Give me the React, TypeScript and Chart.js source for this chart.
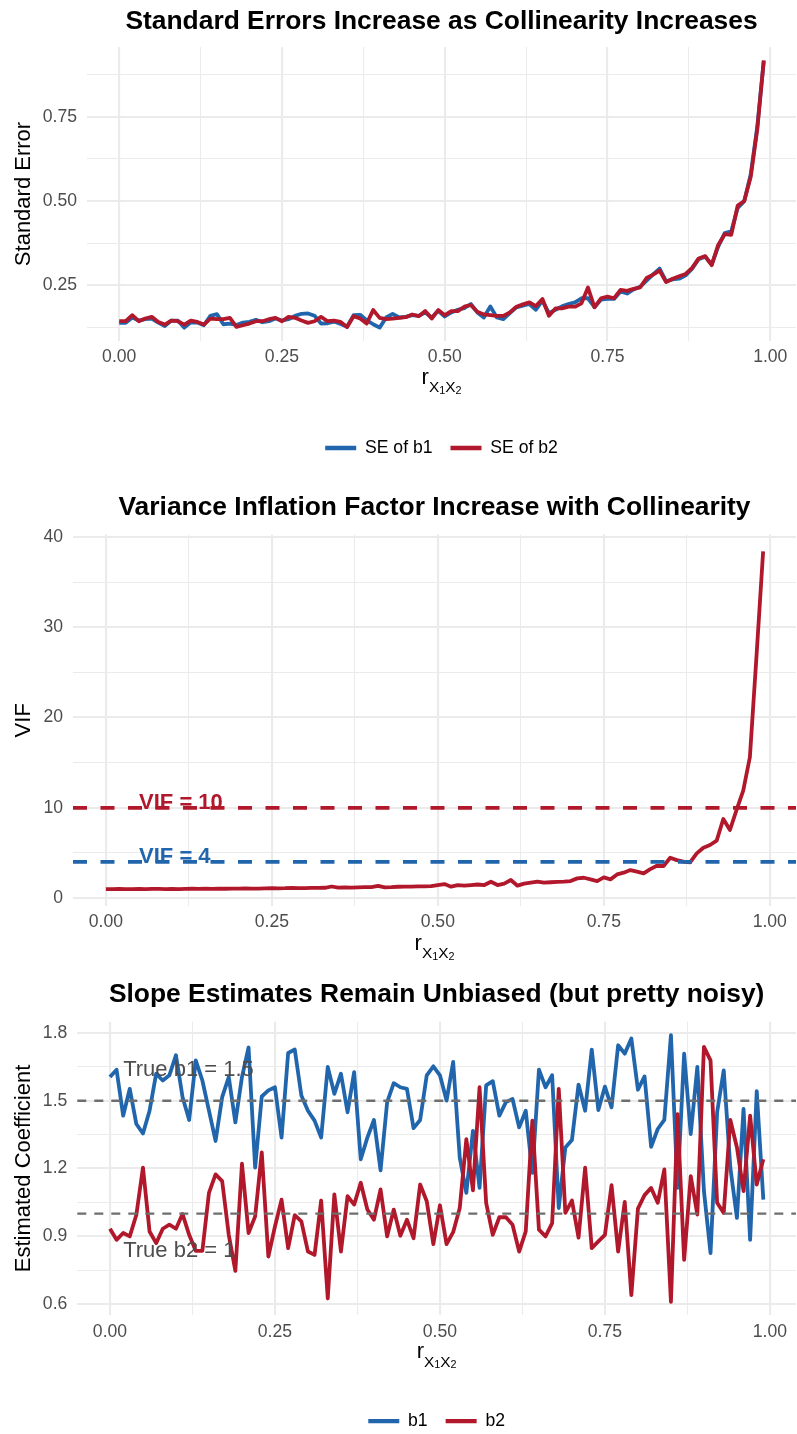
import React, { useEffect, useRef } from 'react';
import { Chart, registerables } from 'chart.js';

Chart.register(...registerables);

const FONT = "'Liberation Sans', Arial, Helvetica, sans-serif";
Chart.defaults.font.family = FONT;

// ---------- data ----------
const R_VALUES = [
  0.00, 0.01, 0.02, 0.03, 0.04, 0.05, 0.06, 0.07, 0.08, 0.09,
  0.10, 0.11, 0.12, 0.13, 0.14, 0.15, 0.16, 0.17, 0.18, 0.19,
  0.20, 0.21, 0.22, 0.23, 0.24, 0.25, 0.26, 0.27, 0.28, 0.29,
  0.30, 0.31, 0.32, 0.33, 0.34, 0.35, 0.36, 0.37, 0.38, 0.39,
  0.40, 0.41, 0.42, 0.43, 0.44, 0.45, 0.46, 0.47, 0.48, 0.49,
  0.50, 0.51, 0.52, 0.53, 0.54, 0.55, 0.56, 0.57, 0.58, 0.59,
  0.60, 0.61, 0.62, 0.63, 0.64, 0.65, 0.66, 0.67, 0.68, 0.69,
  0.70, 0.71, 0.72, 0.73, 0.74, 0.75, 0.76, 0.77, 0.78, 0.79,
  0.80, 0.81, 0.82, 0.83, 0.84, 0.85, 0.86, 0.87, 0.88, 0.89,
  0.90, 0.91, 0.92, 0.93, 0.94, 0.95, 0.96, 0.97, 0.98, 0.99,
];

const SE_B1 = [
  0.139, 0.139, 0.155, 0.146, 0.150, 0.152, 0.140, 0.130, 0.146, 0.146,
  0.125, 0.141, 0.140, 0.132, 0.160, 0.165, 0.135, 0.137, 0.133, 0.140,
  0.142, 0.148, 0.141, 0.144, 0.152, 0.146, 0.150, 0.160, 0.166, 0.167,
  0.160, 0.137, 0.138, 0.143, 0.136, 0.128, 0.162, 0.163, 0.147, 0.135,
  0.125, 0.155, 0.166, 0.155, 0.157, 0.162, 0.160, 0.170, 0.155, 0.175,
  0.158, 0.170, 0.178, 0.183, 0.195, 0.170, 0.155, 0.188, 0.155, 0.150,
  0.168, 0.185, 0.190, 0.195, 0.178, 0.205, 0.168, 0.178, 0.188, 0.195,
  0.200, 0.212, 0.212, 0.186, 0.208, 0.210, 0.210, 0.232, 0.226, 0.238,
  0.246, 0.264, 0.283, 0.300, 0.262, 0.268, 0.270, 0.280, 0.300, 0.328,
  0.335, 0.312, 0.365, 0.405, 0.410, 0.480, 0.500, 0.580, 0.720, 0.915,
];

const SE_B2 = [
  0.144, 0.144, 0.162, 0.144, 0.152, 0.157, 0.142, 0.134, 0.146, 0.144,
  0.134, 0.146, 0.142, 0.134, 0.152, 0.150, 0.150, 0.154, 0.127, 0.132,
  0.137, 0.144, 0.144, 0.150, 0.154, 0.144, 0.157, 0.154, 0.146, 0.139,
  0.144, 0.157, 0.144, 0.146, 0.142, 0.127, 0.159, 0.152, 0.137, 0.177,
  0.154, 0.150, 0.152, 0.154, 0.156, 0.164, 0.159, 0.174, 0.152, 0.177,
  0.162, 0.174, 0.174, 0.187, 0.192, 0.172, 0.164, 0.162, 0.160, 0.160,
  0.170, 0.187, 0.194, 0.200, 0.189, 0.210, 0.160, 0.182, 0.182, 0.187,
  0.187, 0.197, 0.244, 0.185, 0.212, 0.217, 0.212, 0.237, 0.234, 0.240,
  0.244, 0.272, 0.282, 0.294, 0.260, 0.270, 0.277, 0.284, 0.302, 0.330,
  0.337, 0.310, 0.370, 0.402, 0.400, 0.487, 0.500, 0.572, 0.712, 0.917,
];

const VIF_VALUES = [
  1.00, 1.00, 1.01, 0.99, 1.00, 1.01, 1.00, 1.02, 1.01, 1.00,
  1.02, 1.00, 1.01, 1.03, 1.02, 1.03, 1.02, 1.04, 1.03, 1.05,
  1.04, 1.06, 1.05, 1.05, 1.07, 1.10, 1.08, 1.09, 1.12, 1.10,
  1.11, 1.13, 1.12, 1.14, 1.28, 1.15, 1.17, 1.16, 1.19, 1.20,
  1.22, 1.35, 1.18, 1.20, 1.25, 1.27, 1.26, 1.30, 1.29, 1.32,
  1.44, 1.55, 1.26, 1.44, 1.37, 1.44, 1.50, 1.44, 1.81, 1.44,
  1.60, 2.00, 1.37, 1.60, 1.70, 1.81, 1.70, 1.75, 1.79, 1.81,
  1.88, 2.18, 2.25, 2.07, 1.88, 2.29, 2.07, 2.62, 2.81, 3.10,
  2.92, 2.73, 3.20, 3.58, 3.55, 4.47, 4.20, 4.03, 3.95, 4.95,
  5.58, 5.88, 6.36, 8.76, 7.54, 9.76, 11.90, 15.60, 26.80, 38.40,
];

const B1_ESTIMATES = [
  1.605, 1.638, 1.434, 1.553, 1.397, 1.355, 1.456, 1.620, 1.590, 1.613,
  1.702, 1.516, 1.415, 1.679, 1.590, 1.456, 1.322, 1.516, 1.605, 1.404,
  1.605, 1.736, 1.204, 1.519, 1.546, 1.560, 1.337, 1.712, 1.727, 1.523,
  1.456, 1.412, 1.337, 1.650, 1.531, 1.620, 1.449, 1.627, 1.241, 1.337,
  1.415, 1.192, 1.494, 1.578, 1.560, 1.553, 1.379, 1.415, 1.613, 1.653,
  1.613, 1.501, 1.672, 1.248, 1.092, 1.367, 1.114, 1.568, 1.587, 1.434,
  1.494, 1.508, 1.382, 1.456, 1.181, 1.638, 1.560, 1.613, 1.025, 1.293,
  1.326, 1.572, 1.456, 1.727, 1.459, 1.563, 1.471, 1.746, 1.709, 1.776,
  1.549, 1.608, 1.296, 1.375, 1.415, 1.791, 1.114, 1.709, 1.352, 1.650,
  1.100, 0.825, 1.449, 1.635, 1.204, 0.981, 1.464, 0.884, 1.543, 1.062,
];

const B2_ESTIMATES = [
  0.933, 0.884, 0.914, 0.899, 0.995, 1.204, 0.921, 0.869, 0.933, 0.951,
  0.933, 0.998, 0.906, 0.835, 0.835, 1.092, 1.174, 1.144, 0.906, 0.746,
  1.221, 0.914, 0.988, 1.271, 0.810, 0.943, 1.062, 0.847, 0.993, 0.966,
  0.832, 0.817, 1.058, 0.624, 1.085, 0.832, 1.077, 1.040, 1.137, 1.018,
  0.973, 1.107, 0.899, 1.018, 0.902, 0.973, 0.891, 1.129, 1.055, 0.865,
  1.037, 0.865, 0.918, 1.025, 1.330, 1.103, 1.560, 1.048, 0.906, 0.984,
  0.984, 0.951, 0.832, 0.921, 1.412, 0.929, 0.899, 0.958, 1.553, 1.003,
  1.058, 0.894, 1.204, 0.847, 0.877, 0.906, 1.126, 0.832, 1.052, 0.639,
  1.022, 1.082, 1.114, 1.048, 1.196, 0.609, 1.441, 0.795, 1.166, 0.996,
  1.739, 1.679, 1.048, 1.003, 1.415, 1.293, 1.100, 1.434, 1.129, 1.241,
];

// tick values
const X_MAJOR_TICKS = [0, 0.25, 0.5, 0.75, 1];
const X_MINOR_TICKS = [0.125, 0.375, 0.625, 0.875];
const SE_MAJOR_TICKS = [0.25, 0.5, 0.75];
const SE_MINOR_TICKS = [0.125, 0.375, 0.625, 0.875];
const VIF_MAJOR_TICKS = [0, 10, 20, 30, 40];
const VIF_MINOR_TICKS = [5, 15, 25, 35];
const COEF_MAJOR_TICKS = [0.6, 0.9, 1.2, 1.5, 1.8];
const COEF_MINOR_TICKS = [0.75, 1.05, 1.35, 1.65];

// reference lines
const VIF_THRESHOLDS = [10, 4];
const VIF_THRESHOLD_LABELS = ['VIF = 10', 'VIF = 4'];
const TRUE_COEFS = [1.5, 1];
const TRUE_COEF_LABELS = ['True b1 = 1.5', 'True b2 = 1'];

// ---------- styling ----------
const BLUE = '#2166AC';
const RED = '#B2182B';
const GRID = '#EBEBEB';
const TICK_COLOR = '#4D4D4D';
const W = 797;
const LEGEND_PAD = 18;

const isIn = (v: number, list: number[]) => list.some((m) => Math.abs(m - v) < 1e-9);

function expandedRange(arrays: number[][], extra: number[] = []) {
  const all = ([] as number[]).concat(...arrays, extra);
  const lo = Math.min(...all);
  const hi = Math.max(...all);
  const pad = (hi - lo) * 0.05;
  return { min: lo - pad, max: hi + pad };
}

function axis(opts: {
  min: number; max: number; majors: number[]; minors: number[];
  fmt: (v: number) => string; horizontal: boolean; size: number; title?: string;
}) {
  const all = [...opts.majors, ...opts.minors].sort((a, b) => a - b);
  return {
    type: 'linear',
    min: opts.min,
    max: opts.max,
    afterBuildTicks: (s: any) => {
      s.ticks = all.filter((v) => v >= opts.min && v <= opts.max).map((v) => ({ value: v }));
    },
    afterFit: (s: any) => {
      if (opts.horizontal) s.height = opts.size;
      else s.width = opts.size;
    },
    grid: {
      color: GRID,
      lineWidth: (c: any) => (c.tick && isIn(c.tick.value, opts.majors) ? 2.1 : 1.05),
      drawTicks: false,
    },
    border: { display: false },
    ticks: {
      autoSkip: false,
      maxRotation: 0,
      minRotation: 0,
      padding: opts.horizontal ? 6 : 10,
      color: TICK_COLOR,
      font: { size: 17.6, family: FONT },
      callback: (v: any) => (isIn(Number(v), opts.majors) ? opts.fmt(Number(v)) : ''),
    },
    title: opts.title
      ? { display: true, text: opts.title, color: '#000', font: { size: 22, family: FONT }, padding: { top: 10.3, bottom: 0 } }
      : { display: false },
  };
}

function rxTitlePlugin(offset: number) {
  return {
    id: 'rxTitle',
    afterDraw(chart: any) {
      const { ctx, chartArea } = chart;
      const parts = [
        { t: 'r', size: 22, dy: 0 },
        { t: 'X', size: 15.4, dy: 8.4 },
        { t: '1', size: 10.8, dy: 10.2 },
        { t: 'X', size: 15.4, dy: 8.4 },
        { t: '2', size: 10.8, dy: 10.2 },
      ];
      ctx.save();
      ctx.fillStyle = '#000';
      ctx.textBaseline = 'alphabetic';
      ctx.textAlign = 'left';
      const widths = parts.map((p) => {
        ctx.font = `${p.size}px ${FONT}`;
        return ctx.measureText(p.t).width;
      });
      const total = widths.reduce((a, b) => a + b, 0);
      let x = (chartArea.left + chartArea.right) / 2 - total / 2;
      const base = chartArea.bottom + offset;
      parts.forEach((p, i) => {
        ctx.font = `${p.size}px ${FONT}`;
        ctx.fillText(p.t, x, base + p.dy);
        x += widths[i];
      });
      ctx.restore();
    },
  };
}

const legendOpts = {
  display: true,
  position: 'bottom',
  fullSize: false,
  labels: {
    boxWidth: 31,
    boxHeight: 4.3,
    padding: LEGEND_PAD,
    color: '#000',
    font: { size: 17.6, family: FONT },
    generateLabels: (chart: any) =>
      chart.data.datasets.map((ds: any, i: number) => ({
        text: ds.label,
        fillStyle: ds.borderColor,
        strokeStyle: ds.borderColor,
        lineWidth: 0,
        hidden: false,
        datasetIndex: i,
        fontColor: '#000',
      })),
  },
};

function titleOpts(text: string, top: number, bottom: number) {
  return {
    display: true,
    text,
    fullSize: false,
    align: 'center',
    color: '#000',
    font: { size: 26.4, weight: 'bold', family: FONT },
    padding: { top, bottom },
  };
}

function lineDataset(label: string, values: number[], color: string, order: number) {
  return {
    label,
    data: R_VALUES.map((r, i) => ({ x: r, y: values[i] })),
    borderColor: color,
    backgroundColor: color,
    borderWidth: 3.8,
    pointRadius: 0,
    pointHoverRadius: 0,
    tension: 0,
    borderJoinStyle: 'round',
    order,
  };
}

const X_RANGE = expandedRange([R_VALUES]);
const fmt2 = (v: number) => v.toFixed(2);
const LEGEND_H = 17.6 + LEGEND_PAD + 10;

// ---------- chart configs ----------
function seConfig(): any {
  const yr = expandedRange([SE_B1, SE_B2]);
  return {
    type: 'line',
    data: {
      datasets: [lineDataset('SE of b1', SE_B1, BLUE, 1), lineDataset('SE of b2', SE_B2, RED, 0)],
    },
    options: {
      responsive: false,
      animation: false,
      events: [],
      layout: { padding: { top: 0, left: 0, right: 1, bottom: 8.2 } },
      scales: {
        x: axis({ ...X_RANGE, majors: X_MAJOR_TICKS, minors: X_MINOR_TICKS, fmt: fmt2, horizontal: true, size: 475 - 8.2 - LEGEND_H - 341 }),
        y: axis({ ...yr, majors: SE_MAJOR_TICKS, minors: SE_MINOR_TICKS, fmt: fmt2, horizontal: false, size: 87, title: 'Standard Error' }),
      },
      plugins: {
        title: titleOpts('Standard Errors Increase as Collinearity Increases', 5.5, 9.8),
        legend: legendOpts,
        tooltip: { enabled: false },
      },
    },
    plugins: [rxTitlePlugin(43)],
  };
}

function vifConfig(): any {
  const yr = expandedRange([VIF_VALUES], VIF_THRESHOLDS);
  const colors = [RED, BLUE];
  return {
    type: 'line',
    data: { datasets: [lineDataset('VIF', VIF_VALUES, RED, 0)] },
    options: {
      responsive: false,
      animation: false,
      events: [],
      layout: { padding: { top: 0, left: 0, right: 1, bottom: 4 } },
      scales: {
        x: axis({ ...X_RANGE, majors: X_MAJOR_TICKS, minors: X_MINOR_TICKS, fmt: fmt2, horizontal: true, size: 50 }),
        y: axis({ ...yr, majors: VIF_MAJOR_TICKS, minors: VIF_MINOR_TICKS, fmt: (v) => String(Math.round(v)), horizontal: false, size: 73, title: 'VIF' }),
      },
      plugins: {
        title: titleOpts('Variance Inflation Factor Increase with Collinearity', 17.2, 10.7),
        legend: { display: false },
        tooltip: { enabled: false },
      },
    },
    plugins: [
      rxTitlePlugin(44),
      {
        id: 'vifRefs',
        afterDatasetsDraw(chart: any) {
          const { ctx, chartArea, scales } = chart;
          ctx.save();
          VIF_THRESHOLDS.forEach((v, i) => {
            const y = scales.y.getPixelForValue(v);
            ctx.strokeStyle = colors[i];
            ctx.lineWidth = 3.8;
            ctx.setLineDash([14, 13.5]);
            ctx.beginPath();
            ctx.moveTo(chartArea.left, y);
            ctx.lineTo(chartArea.right, y);
            ctx.stroke();
          });
          ctx.setLineDash([]);
          ctx.font = `bold 22px ${FONT}`;
          ctx.textAlign = 'left';
          ctx.textBaseline = 'alphabetic';
          VIF_THRESHOLDS.forEach((v, i) => {
            ctx.fillStyle = colors[i];
            ctx.fillText(VIF_THRESHOLD_LABELS[i], scales.x.getPixelForValue(0.05), scales.y.getPixelForValue(v) + 1);
          });
          ctx.restore();
        },
      },
    ],
  };
}

function coefConfig(): any {
  const yr = expandedRange([B1_ESTIMATES, B2_ESTIMATES]);
  const labelY = [1.61, 0.81];
  return {
    type: 'line',
    data: {
      datasets: [lineDataset('b1', B1_ESTIMATES, BLUE, 1), lineDataset('b2', B2_ESTIMATES, RED, 0)],
    },
    options: {
      responsive: false,
      animation: false,
      events: [],
      layout: { padding: { top: 0, left: 0, right: 1, bottom: 0 } },
      scales: {
        x: axis({ ...X_RANGE, majors: X_MAJOR_TICKS, minors: X_MINOR_TICKS, fmt: fmt2, horizontal: true, size: 480 - LEGEND_H - 355.2 }),
        y: axis({ ...yr, majors: COEF_MAJOR_TICKS, minors: COEF_MINOR_TICKS, fmt: (v) => v.toFixed(1), horizontal: false, size: 77.3, title: 'Estimated Coefficient' }),
      },
      plugins: {
        title: titleOpts('Slope Estimates Remain Unbiased (but pretty noisy)', 19, 11.1),
        legend: legendOpts,
        tooltip: { enabled: false },
      },
    },
    plugins: [
      rxTitlePlugin(43),
      {
        id: 'trueRefs',
        afterDatasetsDraw(chart: any) {
          const { ctx, chartArea, scales } = chart;
          ctx.save();
          TRUE_COEFS.forEach((v) => {
            const y = scales.y.getPixelForValue(v);
            ctx.strokeStyle = '#6E6E6E';
            ctx.lineWidth = 2.4;
            ctx.setLineDash([9, 8]);
            ctx.beginPath();
            ctx.moveTo(chartArea.left, y);
            ctx.lineTo(chartArea.right, y);
            ctx.stroke();
          });
          ctx.setLineDash([]);
          ctx.font = `22px ${FONT}`;
          ctx.textAlign = 'left';
          ctx.textBaseline = 'alphabetic';
          ctx.fillStyle = '#4D4D4D';
          TRUE_COEF_LABELS.forEach((t, i) => {
            ctx.fillText(t, scales.x.getPixelForValue(0.02), scales.y.getPixelForValue(labelY[i]));
          });
          ctx.restore();
        },
      },
    ],
  };
}

function ChartCanvas({ top, height, build }: { top: number; height: number; build: () => any }) {
  const ref = useRef<HTMLCanvasElement | null>(null);
  useEffect(() => {
    if (!ref.current) return;
    const chart = new Chart(ref.current, build());
    return () => chart.destroy();
  }, []);
  return (
    <canvas
      ref={ref}
      width={W}
      height={height}
      style={{ position: 'absolute', left: 0, top, width: W, height, display: 'block' }}
    />
  );
}

export default function App() {
  return (
    <div
      style={{
        position: 'absolute',
        left: 0,
        top: 0,
        width: W,
        height: 1434,
        overflow: 'hidden',
        background: '#fff',
      }}
    >
      <ChartCanvas top={0} height={475} build={seConfig} />
      <ChartCanvas top={475} height={485} build={vifConfig} />
      <ChartCanvas top={960} height={480} build={coefConfig} />
    </div>
  );
}
